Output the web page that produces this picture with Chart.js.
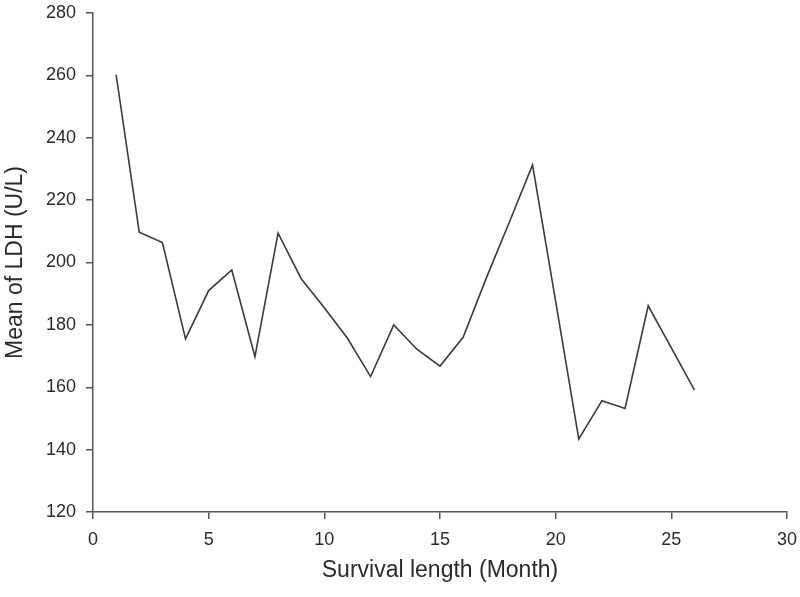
<!DOCTYPE html>
<html>
<head>
<meta charset="utf-8">
<script src="https://cdn.jsdelivr.net/npm/chart.js@4.4.1/dist/chart.umd.min.js"></script>
<style>
  html, body { margin: 0; padding: 0; background: #fff; }
  #wrap { width: 800px; height: 597px; }
</style>
</head>
<body>
<div id="wrap"><canvas id="ldhChart" width="800" height="597"></canvas></div>
<script>
// survival length in months and mean LDH (U/L)
const months = [1, 2, 3, 4, 5, 6, 7, 8, 9, 10, 11, 12, 13, 14, 15, 16, 17, 18, 19, 20, 21, 22, 23, 24, 25, 26];
const ldhMean = [260.2, 209.7, 206.4, 175.5, 191, 197.6, 169.8, 209.4, 194.8, 185.5, 175.7, 163.4, 180, 172.2, 166.8, 176, 195, 213, 231.3, 187.5, 143.4, 155.7, 153.2, 186.1, 172.6, 159.1];
const xTicks = [0, 5, 10, 15, 20, 25, 30];
const yTicks = [120, 140, 160, 180, 200, 220, 240, 260, 280];

const axisColor = '#555555';
const textColor = '#2a2a2a';
const font = 'Liberation Sans, Arial, sans-serif';

// stop Chart.js from shrinking the plot area for overhanging tick labels
function noLabelPadding(scale) {
    scale.paddingTop = 0;
    scale.paddingBottom = 0;
    scale.paddingLeft = 0;
    scale.paddingRight = 0;
}

document.addEventListener('DOMContentLoaded', function () {
    const ctx = document.getElementById('ldhChart');

    new Chart(ctx, {
        type: 'line',
        data: {
            datasets: [{
                label: 'Mean of LDH',
                data: months.map((m, i) => ({ x: m, y: ldhMean[i] })),
                borderColor: '#3a3a3a',
                borderWidth: 1.6,
                pointRadius: 0,
                tension: 0,
                fill: false
            }]
        },
        options: {
            responsive: false,
            animation: false,
            layout: { padding: { top: 13, right: 13, left: 0, bottom: 0 } },
            plugins: {
                legend: { display: false },
                tooltip: { enabled: false }
            },
            scales: {
                x: {
                    type: 'linear',
                    min: 0,
                    max: 30,
                    afterBuildTicks: function (scale) {
                        scale.ticks = xTicks.map(v => ({ value: v }));
                    },
                    afterFit: function (scale) {
                        scale.height = 85;
                        noLabelPadding(scale);
                    },
                    grid: { drawOnChartArea: false, drawTicks: true, tickLength: 7, color: axisColor, lineWidth: 1.5 },
                    border: { display: true, color: axisColor, width: 1.5 },
                    ticks: { color: textColor, font: { family: font, size: 18 }, padding: 10, maxRotation: 0 },
                    title: {
                        display: true,
                        text: 'Survival length (Month)',
                        color: textColor,
                        font: { family: font, size: 23 },
                        padding: { top: 8, bottom: 13 }
                    }
                },
                y: {
                    min: 120,
                    max: 280,
                    afterBuildTicks: function (scale) {
                        scale.ticks = yTicks.map(v => ({ value: v }));
                    },
                    afterFit: function (scale) {
                        scale.width = 93;
                        noLabelPadding(scale);
                    },
                    grid: { drawOnChartArea: false, drawTicks: true, tickLength: 7, color: axisColor, lineWidth: 1.5 },
                    border: { display: true, color: axisColor, width: 1.5 },
                    ticks: { color: textColor, font: { family: font, size: 18 }, padding: 10 },
                    title: {
                        display: true,
                        text: 'Mean of LDH (U/L)',
                        color: textColor,
                        font: { family: font, size: 23 },
                        padding: { top: 2, bottom: 2 }
                    }
                }
            }
        }
    });
});
</script>
</body>
</html>
